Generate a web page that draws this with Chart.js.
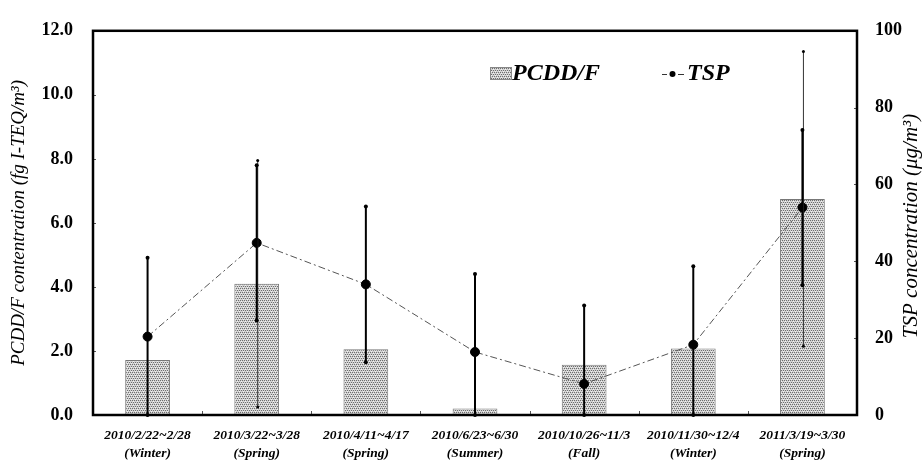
<!DOCTYPE html>
<html>
<head>
<meta charset="utf-8">
<script src="https://cdn.jsdelivr.net/npm/chart.js@4.4.1/dist/chart.umd.min.js"></script>
<style>
  html, body { margin: 0; padding: 0; background: #fff; }
  #wrap { width: 922px; height: 467px; position: relative; }
</style>
</head>
<body>
<div id="wrap"><canvas id="chart"></canvas></div>
<script>
// sampling periods (two-line tick labels)
const periods = [
  ['2010/2/22~2/28', '(Winter)'],
  ['2010/3/22~3/28', '(Spring)'],
  ['2010/4/11~4/17', '(Spring)'],
  ['2010/6/23~6/30', '(Summer)'],
  ['2010/10/26~11/3', '(Fall)'],
  ['2010/11/30~12/4', '(Winter)'],
  ['2011/3/19~3/30', '(Spring)']
];

// PCDD/F, fg I-TEQ/m3 (left axis)
const pcdd = [1.72, 4.10, 2.05, 0.20, 1.57, 2.08, 6.75];
const pcddErr = [null, 3.85, null, null, null, null, 4.60];

// TSP, ug/m3 (right axis)
const tsp = [20.4, 44.8, 34.0, 16.4, 8.1, 18.3, 54.0];
const tspErr = [20.5, 20.2, 20.3, 20.3, 20.4, 20.4, 20.2];

const leftTicks = [0, 2, 4, 6, 8, 10, 12];
const rightTicks = [0, 20, 40, 60, 80, 100];

const SERIF = "'Liberation Serif', 'DejaVu Serif', serif";
Chart.defaults.font.family = SERIF;
Chart.defaults.color = '#000';

// grey stipple used for the bars
function stipple() {
  const c = document.createElement('canvas');
  c.width = 4; c.height = 4;
  const g = c.getContext('2d');
  g.fillStyle = '#d2d2d2';
  g.fillRect(0, 0, 4, 4);
  g.fillStyle = '#6e6e6e';
  g.fillRect(0, 0, 1, 1);
  g.fillRect(2, 0, 1, 1);
  g.fillRect(1, 2, 1, 1);
  g.fillRect(3, 2, 1, 1);
  g.fillStyle = '#f2f2f2';
  g.fillRect(1, 1, 1, 1);
  g.fillRect(3, 3, 1, 1);
  return g.createPattern(c, 'repeat');
}
const barFill = stipple();

function dot(ctx, x, y, r) {
  ctx.beginPath();
  ctx.arc(x, y, r, 0, Math.PI * 2);
  ctx.fill();
}

// error bars, frame, inward ticks, legend and right axis title
const extras = {
  id: 'extras',
  afterDatasetsDraw(chart) {
    const { ctx, scales } = chart;
    const x = scales.x, y = scales.y, y1 = scales.y1;
    ctx.save();
    ctx.fillStyle = '#000';

    // PCDD/F spread (thin)
    ctx.lineWidth = 1;
    ctx.strokeStyle = '#333';
    pcddErr.forEach((e, i) => {
      if (e == null) return;
      const px = x.getPixelForValue(i) + 1;
      const top = y.getPixelForValue(pcdd[i] + e);
      const bot = y.getPixelForValue(Math.max(0, pcdd[i] - e));
      ctx.beginPath();
      ctx.moveTo(px, top);
      ctx.lineTo(px, bot);
      ctx.stroke();
      dot(ctx, px, top, 1.5);
      dot(ctx, px, bot, 1.5);
    });

    // TSP spread (thick)
    ctx.strokeStyle = '#000';
    ctx.lineWidth = 2;
    tspErr.forEach((e, i) => {
      const px = x.getPixelForValue(i);
      const top = y1.getPixelForValue(tsp[i] + e);
      const bot = y1.getPixelForValue(Math.max(0, tsp[i] - e));
      ctx.beginPath();
      ctx.moveTo(px, top);
      ctx.lineTo(px, bot);
      ctx.stroke();
      dot(ctx, px, top, 2);
      dot(ctx, px, bot, 2);
    });
    ctx.restore();
  },
  afterDraw(chart) {
    const { ctx, chartArea: a, scales } = chart;
    ctx.save();

    // short inward ticks
    ctx.strokeStyle = '#555';
    ctx.lineWidth = 1;
    for (let i = 1; i < periods.length; i++) {
      const px = Math.round(scales.x.getPixelForValue(i - 0.5)) + 0.5;
      ctx.beginPath();
      ctx.moveTo(px, a.bottom);
      ctx.lineTo(px, a.bottom - 4);
      ctx.stroke();
    }
    leftTicks.forEach(v => {
      const py = Math.round(scales.y.getPixelForValue(v)) + 0.5;
      ctx.beginPath();
      ctx.moveTo(a.left, py);
      ctx.lineTo(a.left + 3, py);
      ctx.stroke();
    });
    rightTicks.forEach(v => {
      const py = Math.round(scales.y1.getPixelForValue(v)) + 0.5;
      ctx.beginPath();
      ctx.moveTo(a.right, py);
      ctx.lineTo(a.right - 3, py);
      ctx.stroke();
    });

    // frame
    ctx.strokeStyle = '#000';
    ctx.lineWidth = 2.5;
    ctx.strokeRect(a.left, a.top, a.right - a.left, a.bottom - a.top);

    // legend
    ctx.fillStyle = barFill;
    ctx.fillRect(490, 67, 22, 13);
    ctx.strokeStyle = '#888';
    ctx.lineWidth = 1;
    ctx.strokeRect(490.5, 67.5, 21, 12);
    ctx.fillStyle = '#000';
    ctx.font = 'italic bold 24px ' + SERIF;
    ctx.textBaseline = 'middle';
    ctx.textAlign = 'left';
    ctx.fillText('PCDD/F', 512, 74);
    ctx.strokeStyle = '#333';
    ctx.beginPath();
    ctx.moveTo(662, 74.5); ctx.lineTo(667, 74.5);
    ctx.moveTo(678, 74.5); ctx.lineTo(684, 74.5);
    ctx.stroke();
    dot(ctx, 672.5, 74, 3);
    ctx.fillText('TSP', 687, 74);

    // right axis title, reading bottom to top
    ctx.translate(911, (a.top + a.bottom) / 2 + 3);
    ctx.rotate(-Math.PI / 2);
    ctx.textAlign = 'center';
    ctx.font = 'italic 21px ' + SERIF;
    ctx.fillText('TSP concentration (\u03BCg/m\u00B3)', 0, 0);
    ctx.restore();
  }
};

new Chart(document.getElementById('chart'), {
  data: {
    labels: periods,
    datasets: [
      {
        type: 'line',
        label: 'TSP',
        data: tsp,
        yAxisID: 'y1',
        borderColor: '#555',
        borderWidth: 1,
        borderDash: [7, 3, 2, 3],
        pointRadius: 4.5,
        pointBackgroundColor: '#000',
        pointBorderColor: '#000',
        tension: 0,
        order: 0
      },
      {
        type: 'bar',
        label: 'PCDD/F',
        data: pcdd,
        yAxisID: 'y',
        backgroundColor: barFill,
        borderColor: '#777',
        borderWidth: 1,
        barPercentage: 0.41,
        categoryPercentage: 1,
        order: 1
      }
    ]
  },
  plugins: [extras],
  options: {
    responsive: true,
    maintainAspectRatio: false,
    animation: false,
    layout: { padding: { top: 15, left: 0, right: 0, bottom: 0 } },
    plugins: {
      legend: { display: false },
      tooltip: { enabled: false }
    },
    scales: {
      x: {
        grid: { display: false, drawTicks: false },
        border: { display: false },
        ticks: {
          autoSkip: false,
          maxRotation: 0,
          minRotation: 0,
          padding: 11,
          font: { size: 13.5, weight: 'bold', style: 'italic', lineHeight: 1.35 }
        },
        afterFit(s) { s.height = 52; }
      },
      y: {
        position: 'left',
        min: 0,
        max: 12,
        grid: { display: false, drawTicks: false },
        border: { display: false },
        ticks: {
          stepSize: 2,
          padding: 20,
          font: { size: 18, weight: 'bold' },
          callback: v => v.toFixed(1)
        },
        title: {
          display: true,
          text: 'PCDD/F contentration (fg I-TEQ/m\u00B3)',
          font: { size: 19, style: 'italic', lineHeight: 1.2 },
          padding: { top: 8, bottom: 0 }
        },
        afterFit(s) { s.width = 93; }
      },
      y1: {
        position: 'right',
        min: 0,
        max: 100,
        grid: { display: false, drawTicks: false },
        border: { display: false },
        ticks: {
          stepSize: 20,
          padding: 18,
          font: { size: 18, weight: 'bold' }
        },
        afterFit(s) { s.width = 65; }
      }
    }
  }
});
</script>
</body>
</html>
